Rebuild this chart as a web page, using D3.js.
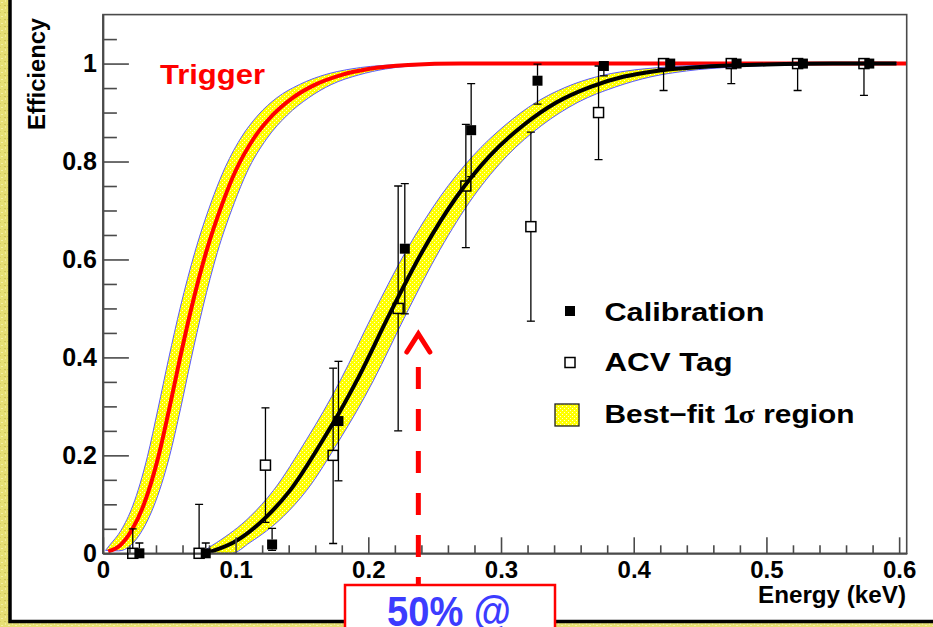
<!DOCTYPE html>
<html>
<head>
<meta charset="utf-8">
<script src="https://cdn.jsdelivr.net/npm/d3@7"></script>
<style>
  html, body { margin: 0; padding: 0; background: #fff; }
  svg { display: block; }
  text { font-family: "Liberation Sans", Arial, Helvetica, sans-serif; font-weight: bold; }
</style>
</head>
<body>
<svg id="chart" width="933" height="627"></svg>
<script>
// ---- axis ticks ----
const xMajorTicks = [0, 0.1, 0.2, 0.3, 0.4, 0.5, 0.6];
const xTickLabels = ["0", "0.1", "0.2", "0.3", "0.4", "0.5", "0.6"];
const xMinorTicks = [0.02, 0.04, 0.06, 0.08, 0.12, 0.14, 0.16, 0.18, 0.22, 0.24, 0.26, 0.28,
                     0.32, 0.34, 0.36, 0.38, 0.42, 0.44, 0.46, 0.48, 0.52, 0.54, 0.56, 0.58];
const yMajorTicks = [0, 0.2, 0.4, 0.6, 0.8, 1.0];
const yTickLabels = ["0", "0.2", "0.4", "0.6", "0.8", "1"];
const yMinorTicks = [0.05, 0.1, 0.15, 0.25, 0.3, 0.35, 0.45, 0.5, 0.55, 0.65, 0.7, 0.75,
                     0.85, 0.9, 0.95, 1.05];

// ---- measured efficiencies ----
const calibE    = [0.0275, 0.0775, 0.1275, 0.1775, 0.2275, 0.2775, 0.3275, 0.3775, 0.4275, 0.4775, 0.5275, 0.5775];
const calibEff  = [0, 0, 0.018, 0.27, 0.622, 0.864, 0.965, 0.995, 1, 1, 1, 1];
const calibUp   = [0.021, 0.021, 0.033, 0.122, 0.133, 0.095, 0.034, 0.004, 0, 0, 0, 0];
const calibDown = [0, 0, 0.012, 0.122, 0.133, 0.095, 0.048, 0.02, 0, 0, 0, 0];

const acvE    = [0.0225, 0.0725, 0.1225, 0.1735, 0.2225, 0.2735, 0.3225, 0.3735, 0.4225, 0.4735, 0.5235, 0.5735];
const acvEff  = [0, 0, 0.18, 0.2, 0.5, 0.75, 0.667, 0.9, 1, 1, 1, 1];
const acvUp   = [0.05, 0.10, 0.117, 0.178, 0.25, 0.126, 0.193, 0.095, 0, 0, 0, 0];
const acvDown = [0, 0, 0.117, 0.18, 0.25, 0.126, 0.193, 0.096, 0.055, 0.041, 0.055, 0.065];

// ---- trigger efficiency curve and its 1 sigma band ----
const trigE   = [0.004, 0.0129, 0.0217, 0.0305, 0.0418, 0.050, 0.058, 0.0669, 0.0777, 0.0903, 0.0995, 0.1134, 0.128, 0.143, 0.160, 0.180, 0.200, 0.230, 0.270, 0.606];
const trigEff = [0.004, 0.016, 0.047, 0.097, 0.197, 0.295, 0.397, 0.503, 0.614, 0.716, 0.778, 0.846, 0.895, 0.930, 0.957, 0.977, 0.989, 0.997, 1.0, 1.0];
const trigHiE   = [0.002, 0.0049, 0.0137, 0.0225, 0.0335, 0.0415, 0.0495, 0.0584, 0.0692, 0.0815, 0.0905, 0.1035, 0.117, 0.131, 0.148, 0.167, 0.187, 0.216, 0.255, 0.606];
const trigHiEff = [0.006, 0.016, 0.047, 0.097, 0.197, 0.295, 0.397, 0.503, 0.614, 0.716, 0.778, 0.846, 0.895, 0.930, 0.957, 0.977, 0.989, 0.997, 1.0, 1.0];
const trigLoE   = [0.002, 0.012, 0.0209, 0.0297, 0.0385, 0.0501, 0.0585, 0.0665, 0.0754, 0.0862, 0.0991, 0.1085, 0.1233, 0.139, 0.155, 0.172, 0.193, 0.213, 0.244, 0.285, 0.606];
const trigLoEff = [0.006, 0.005, 0.016, 0.047, 0.097, 0.197, 0.295, 0.397, 0.503, 0.614, 0.716, 0.778, 0.846, 0.895, 0.930, 0.957, 0.977, 0.989, 0.997, 1.0, 1.0];

// ---- best-fit efficiency curve and its 1 sigma band ----
const fitE   = [0.0807, 0.0983, 0.1234, 0.1409, 0.1661, 0.1787, 0.1912, 0.2163, 0.2415, 0.2666, 0.2917, 0.3168, 0.342, 0.367, 0.392, 0.417, 0.45, 0.50, 0.55, 0.598];
const fitEff = [0.003, 0.022, 0.075, 0.128, 0.233, 0.29, 0.352, 0.49, 0.62, 0.728, 0.812, 0.874, 0.921, 0.952, 0.973, 0.985, 0.993, 0.998, 1.0, 1.0];
const fitHiE   = [0.074, 0.080, 0.0858, 0.1109, 0.1284, 0.1536, 0.1662, 0.1787, 0.2038, 0.229, 0.2541, 0.279, 0.303, 0.3265, 0.349, 0.372, 0.395, 0.425, 0.47, 0.52, 0.598];
const fitHiEff = [0.0, 0.012, 0.022, 0.075, 0.128, 0.233, 0.29, 0.352, 0.49, 0.62, 0.728, 0.812, 0.874, 0.921, 0.952, 0.973, 0.985, 0.993, 0.998, 1.0, 1.0];
const fitLoE   = [0.0807, 0.097, 0.1108, 0.1359, 0.1534, 0.1786, 0.1912, 0.2037, 0.2288, 0.254, 0.2791, 0.3047, 0.3308, 0.358, 0.386, 0.413, 0.44, 0.475, 0.53, 0.575, 0.598];
const fitLoEff = [0.0, 0.0, 0.022, 0.075, 0.128, 0.233, 0.29, 0.352, 0.49, 0.62, 0.728, 0.812, 0.874, 0.921, 0.952, 0.973, 0.985, 0.993, 0.998, 1.0, 1.0];

// energy pointed at by the 50% arrow
const halfEffE = 0.2377;
const halfEffLabel = "50% @";

const legendLabels = ["Calibration", "ACV Tag", "Best\u2212fit "];

// ---------------------------------------------------------------
const svg = d3.select("#chart");
const W = 933, H = 627;

const x = d3.scaleLinear().domain([0, 0.6057]).range([102.9, 906.7]);
const y = d3.scaleLinear().domain([0, 1.1]).range([553.3, 14.6]);

const defs = svg.append("defs");

// textured yellow surround
const bgPat = defs.append("pattern").attr("id", "bgTex")
  .attr("patternUnits", "userSpaceOnUse").attr("width", 7).attr("height", 7);
bgPat.append("rect").attr("width", 7).attr("height", 7).attr("fill", "#e6df74");
bgPat.append("rect").attr("x", 1).attr("y", 2).attr("width", 2).attr("height", 1).attr("fill", "#f4efa6");
bgPat.append("rect").attr("x", 4).attr("y", 5).attr("width", 2).attr("height", 1).attr("fill", "#cfc55a");
bgPat.append("rect").attr("x", 5).attr("y", 0).attr("width", 1).attr("height", 2).attr("fill", "#f1eb9a");
bgPat.append("rect").attr("x", 0).attr("y", 5).attr("width", 1).attr("height", 1).attr("fill", "#d6cd62");

// dotted yellow fill of the sigma bands
const bandPat = defs.append("pattern").attr("id", "bandFill")
  .attr("patternUnits", "userSpaceOnUse").attr("width", 4).attr("height", 4);
bandPat.append("rect").attr("width", 4).attr("height", 4).attr("fill", "#ffff00");
bandPat.append("rect").attr("x", 0).attr("y", 0).attr("width", 1).attr("height", 1).attr("fill", "#ffffd0");
bandPat.append("rect").attr("x", 2).attr("y", 2).attr("width", 1).attr("height", 1).attr("fill", "#ffffd0");

defs.append("clipPath").attr("id", "plotClip")
  .append("rect").attr("x", x(0)).attr("y", y(1.1))
  .attr("width", x(0.6057) - x(0)).attr("height", y(0) - y(1.1));

// background and white panel
svg.append("rect").attr("width", W).attr("height", H).attr("fill", "url(#bgTex)");
svg.append("rect").attr("x", 10).attr("y", -20).attr("width", W + 20).attr("height", 641.5)
  .attr("fill", "#fff").attr("stroke", "#000").attr("stroke-width", 3.5);

const plot = svg.append("g").attr("clip-path", "url(#plotClip)");

const pts = (xs, ys) => xs.map((e, i) => [x(e), y(ys[i])]);
const line = d3.line().curve(d3.curveMonotoneX);

function band(hiE, hiEff, loE, loEff) {
  const hi = pts(hiE, hiEff);
  const lo = pts(loE, loEff);
  const fillPath = line(hi) + "L" + line(lo.slice().reverse()).slice(1) + "Z";
  plot.append("path").attr("d", fillPath).attr("fill", "url(#bandFill)").attr("stroke", "none");
  plot.append("path").attr("d", line(hi)).attr("fill", "none").attr("stroke", "#5a5aff").attr("stroke-width", 1);
  plot.append("path").attr("d", line(lo)).attr("fill", "none").attr("stroke", "#5a5aff").attr("stroke-width", 1);
}

// trigger band + curve
band(trigHiE, trigHiEff, trigLoE, trigLoEff);
plot.append("path").attr("d", line(pts(trigE, trigEff)))
  .attr("fill", "none").attr("stroke", "#ff0000").attr("stroke-width", 4);

// best-fit band + curve
band(fitHiE, fitHiEff, fitLoE, fitLoEff);
plot.append("path").attr("d", line(pts(fitE, fitEff)))
  .attr("fill", "none").attr("stroke", "#000").attr("stroke-width", 4);

// frame and axes
svg.append("rect").attr("x", x(0)).attr("y", y(1.1))
  .attr("width", x(0.6057) - x(0)).attr("height", y(0) - y(1.1))
  .attr("fill", "none").attr("stroke", "#4a4a4a").attr("stroke-width", 1.6);

const xAxisMajor = d3.axisBottom(x).tickValues(xMajorTicks)
  .tickFormat((d, i) => xTickLabels[i]).tickSizeInner(-16).tickSizeOuter(0).tickPadding(8);
const xAxisMinor = d3.axisBottom(x).tickValues(xMinorTicks).tickFormat("")
  .tickSizeInner(-8).tickSizeOuter(0);
const yAxisMajor = d3.axisLeft(y).tickValues(yMajorTicks)
  .tickFormat((d, i) => yTickLabels[i]).tickSizeInner(-26).tickSizeOuter(0).tickPadding(6);
const yAxisMinor = d3.axisLeft(y).tickValues(yMinorTicks).tickFormat("")
  .tickSizeInner(-14).tickSizeOuter(0);

function styleAxis(size) {
  return g => {
    g.select(".domain").attr("stroke", "#4a4a4a").attr("stroke-width", 1.6);
    g.selectAll(".tick line").attr("stroke", "#4a4a4a").attr("stroke-width", 1.6);
    g.selectAll(".tick text").attr("fill", "#000")
      .style("font-family", "'Liberation Sans', Arial, sans-serif")
      .style("font-weight", "bold").style("font-size", size + "px");
  };
}
svg.append("g").attr("transform", `translate(0,${y(0)})`).call(xAxisMinor).call(styleAxis(24));
svg.append("g").attr("transform", `translate(0,${y(0)})`).call(xAxisMajor).call(styleAxis(24));
svg.append("g").attr("transform", `translate(${x(0)},0)`).call(yAxisMinor).call(styleAxis(25));
svg.append("g").attr("transform", `translate(${x(0)},0)`).call(yAxisMajor).call(styleAxis(25));

// axis titles
svg.append("text").attr("x", 906).attr("y", 603).attr("text-anchor", "end")
  .attr("font-size", 23).attr("textLength", 148).attr("lengthAdjust", "spacingAndGlyphs")
  .text("Energy (keV)");
svg.append("text").attr("transform", "translate(45,18) rotate(-90)").attr("text-anchor", "end")
  .attr("font-size", 23).attr("textLength", 112).attr("lengthAdjust", "spacingAndGlyphs")
  .text("Efficiency");

// trigger label
svg.append("text").attr("x", 160).attr("y", 83.5).attr("fill", "#ff0000")
  .attr("font-size", 28).attr("textLength", 105).attr("lengthAdjust", "spacingAndGlyphs")
  .text("Trigger");

// error bars + markers
const MS = 10;       // marker size
const CAP = 4;       // half-width of the bar caps
function errorBars(es, vs, ups, downs, gap) {
  const g = plot.append("g").attr("stroke", "#000").attr("stroke-width", 1.3);
  es.forEach((e, i) => {
    const cx = x(e), cy = y(vs[i]);
    if (ups[i] > 0) {
      const yt = y(vs[i] + ups[i]);
      g.append("line").attr("x1", cx).attr("x2", cx).attr("y1", yt).attr("y2", cy - gap);
      g.append("line").attr("x1", cx - CAP).attr("x2", cx + CAP).attr("y1", yt).attr("y2", yt);
    }
    if (downs[i] > 0) {
      const yb = y(vs[i] - downs[i]);
      g.append("line").attr("x1", cx).attr("x2", cx).attr("y1", cy + gap).attr("y2", yb);
      g.append("line").attr("x1", cx - CAP).attr("x2", cx + CAP).attr("y1", yb).attr("y2", yb);
    }
  });
}
errorBars(acvE, acvEff, acvUp, acvDown, MS / 2);
errorBars(calibE, calibEff, calibUp, calibDown, MS / 2);

const markers = svg.append("g");
acvE.forEach((e, i) => {
  markers.append("rect").attr("x", x(e) - MS / 2).attr("y", y(acvEff[i]) - MS / 2)
    .attr("width", MS).attr("height", MS).attr("fill", "none")
    .attr("stroke", "#000").attr("stroke-width", 1.5);
});
calibE.forEach((e, i) => {
  markers.append("rect").attr("x", x(e) - MS / 2).attr("y", y(calibEff[i]) - MS / 2)
    .attr("width", MS).attr("height", MS).attr("fill", "#000");
});

// legend
const lg = svg.append("g");
lg.append("rect").attr("x", 565).attr("y", 306).attr("width", MS).attr("height", MS).attr("fill", "#000");
lg.append("rect").attr("x", 565).attr("y", 357.5).attr("width", MS).attr("height", MS)
  .attr("fill", "#fff").attr("stroke", "#000").attr("stroke-width", 1.5);
lg.append("rect").attr("x", 555).attr("y", 404).attr("width", 24).attr("height", 22)
  .attr("fill", "url(#bandFill)").attr("stroke", "#222").attr("stroke-width", 1.3);
lg.append("text").attr("x", 604.5).attr("y", 320.5).attr("font-size", 25)
  .attr("textLength", 160).attr("lengthAdjust", "spacingAndGlyphs").text(legendLabels[0]);
lg.append("text").attr("x", 604.5).attr("y", 370.5).attr("font-size", 25)
  .attr("textLength", 128).attr("lengthAdjust", "spacingAndGlyphs").text(legendLabels[1]);
const t3 = lg.append("text").attr("x", 604.5).attr("y", 423).attr("font-size", 25)
  .attr("textLength", 250).attr("lengthAdjust", "spacingAndGlyphs");
t3.append("tspan").text(legendLabels[2]);
t3.append("tspan").text("1");
t3.append("tspan").attr("dx", -1).style("font-family", "'Liberation Serif', 'DejaVu Serif', serif")
  .text("\u03c3");
t3.append("tspan").text(" region");

// 50% arrow
const ax = x(halfEffE);
svg.append("line").attr("x1", ax).attr("x2", ax).attr("y1", 367).attr("y2", 600)
  .attr("stroke", "#ff0000").attr("stroke-width", 5).attr("stroke-dasharray", "22 20");
svg.append("polyline")
  .attr("points", `${ax - 11.5},352 ${ax},334 ${ax + 11.5},352`)
  .attr("fill", "none").attr("stroke", "#ff0000").attr("stroke-width", 5)
  .attr("stroke-linecap", "round").attr("stroke-linejoin", "miter");

// annotation box
svg.append("rect").attr("x", 345).attr("y", 585).attr("width", 210).attr("height", 80)
  .attr("fill", "#fff").attr("stroke", "#ff0000").attr("stroke-width", 2.5);
svg.append("text").attr("x", 387).attr("y", 626).attr("fill", "#3c3cff")
  .attr("font-size", 43).attr("textLength", 124).attr("lengthAdjust", "spacingAndGlyphs")
  .text(halfEffLabel);
</script>
</body>
</html>
